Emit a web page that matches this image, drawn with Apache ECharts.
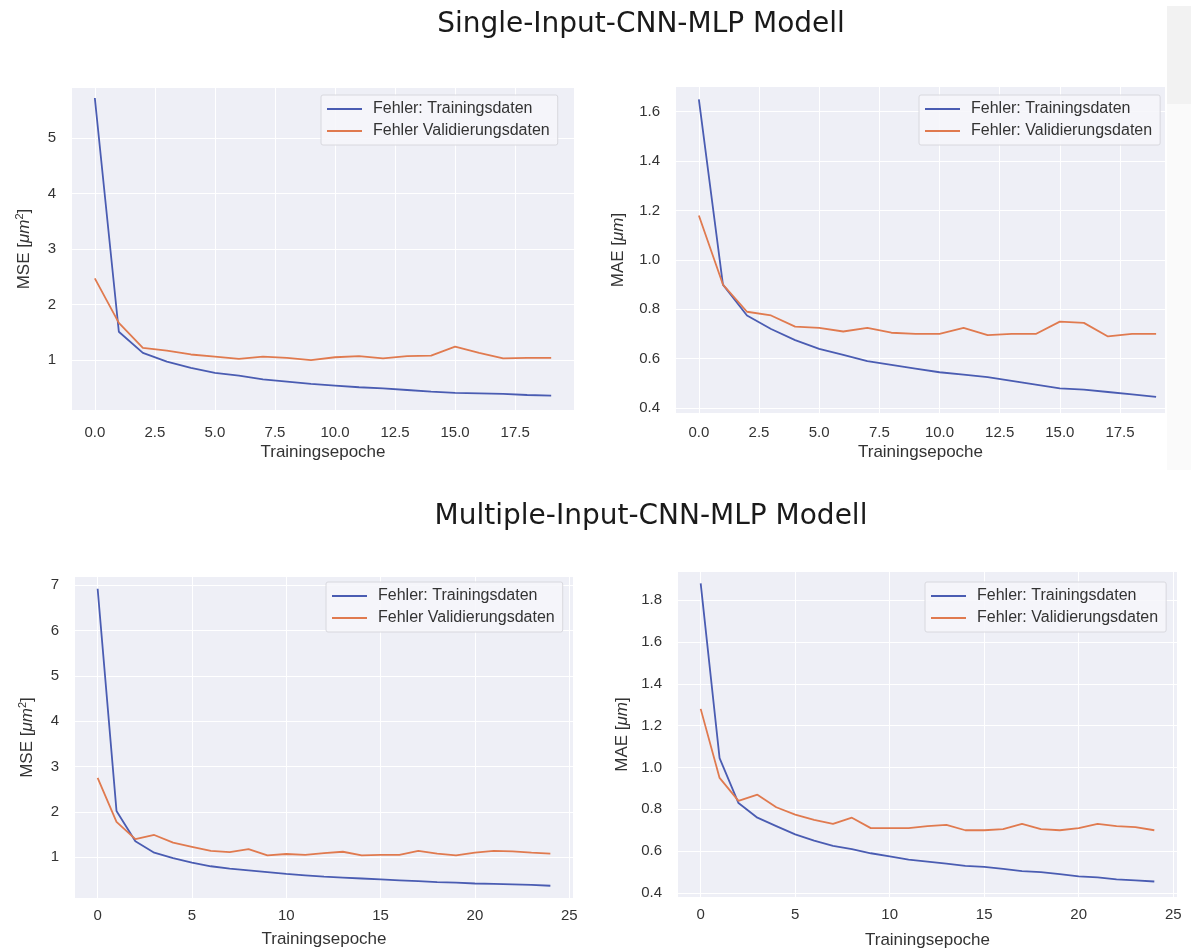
<!DOCTYPE html>
<html><head><meta charset="utf-8">
<script src="https://cdn.jsdelivr.net/npm/echarts@6/dist/echarts.min.js"></script>
<style>html,body{margin:0;padding:0;background:#fff}#c{width:1197px;height:951px}</style>
</head><body><div id="c"></div>
<script>
// ---- texts ----
const titleTop = 'Single-Input-CNN-MLP Modell';
const titleBottom = 'Multiple-Input-CNN-MLP Modell';
const legendTrain = 'Fehler: Trainingsdaten';
const legendValNoColon = 'Fehler Validierungsdaten';
const legendValColon = 'Fehler: Validierungsdaten';
const xAxisName = 'Trainingsepoche';

// ---- data: Single-Input (20 epochs) ----
const singleMseTrain = [5.72, 1.51, 1.13, 0.97, 0.86, 0.77, 0.72, 0.65, 0.61, 0.57, 0.54, 0.51, 0.49, 0.46, 0.43, 0.41, 0.40, 0.39, 0.37, 0.36];
const singleMseVal   = [2.47, 1.67, 1.22, 1.17, 1.10, 1.06, 1.02, 1.06, 1.04, 1.00, 1.05, 1.07, 1.03, 1.07, 1.08, 1.24, 1.13, 1.03, 1.04, 1.04];
const singleMaeTrain = [1.65, 0.90, 0.775, 0.72, 0.675, 0.64, 0.615, 0.59, 0.575, 0.56, 0.545, 0.535, 0.525, 0.51, 0.495, 0.48, 0.475, 0.465, 0.455, 0.445];
const singleMaeVal   = [1.18, 0.90, 0.79, 0.775, 0.73, 0.725, 0.71, 0.725, 0.705, 0.70, 0.70, 0.725, 0.695, 0.70, 0.70, 0.75, 0.745, 0.69, 0.70, 0.70];

// ---- data: Multiple-Input (25 epochs) ----
const multiMseTrain = [6.92, 2.02, 1.35, 1.10, 0.98, 0.88, 0.80, 0.75, 0.71, 0.67, 0.63, 0.60, 0.57, 0.55, 0.53, 0.51, 0.49, 0.47, 0.45, 0.44, 0.42, 0.41, 0.40, 0.39, 0.37];
const multiMseVal   = [2.75, 1.78, 1.40, 1.49, 1.32, 1.23, 1.14, 1.11, 1.18, 1.04, 1.07, 1.05, 1.09, 1.12, 1.04, 1.05, 1.05, 1.14, 1.08, 1.04, 1.10, 1.14, 1.13, 1.10, 1.08];
const multiMaeTrain = [1.88, 1.045, 0.83, 0.76, 0.72, 0.68, 0.65, 0.625, 0.61, 0.59, 0.575, 0.56, 0.55, 0.54, 0.53, 0.525, 0.515, 0.505, 0.50, 0.49, 0.48, 0.475, 0.465, 0.46, 0.455];
const multiMaeVal   = [1.28, 0.95, 0.84, 0.87, 0.81, 0.775, 0.75, 0.73, 0.76, 0.71, 0.71, 0.71, 0.72, 0.726, 0.70, 0.70, 0.705, 0.73, 0.705, 0.70, 0.71, 0.73, 0.72, 0.715, 0.70];

// ---- tick labels ----
const xTicksSingle = [0, 2.5, 5, 7.5, 10, 12.5, 15, 17.5];
const xTicksMulti = [0, 5, 10, 15, 20, 25];
const yTicksMseSingle = [1, 2, 3, 4, 5];
const yTicksMaeSingle = [0.4, 0.6, 0.8, 1.0, 1.2, 1.4, 1.6];
const yTicksMseMulti = [1, 2, 3, 4, 5, 6, 7];
const yTicksMaeMulti = [0.4, 0.6, 0.8, 1.0, 1.2, 1.4, 1.6, 1.8];

// ---- styling ----
const BLUE = '#4a5cb2';
const ORANGE = '#e07a4f';
const PLOT_BG = '#eeeff6';
const TXT = '#333333';
const FONT = '"Liberation Sans", Arial, sans-serif';

const toPairs = arr => arr.map((v, i) => [i, v]);

const panels = [
  {grid:{left:72, top:88, width:502, height:322}, x:[-0.95,19.95], y:[0.10,5.90], xt:xTicksSingle, xf:v=>v.toFixed(1), yt:yTicksMseSingle, yf:v=>String(v),
   yname:'{a|MSE [}{i|μm}{s|2}{a|]}', ygap:38, xmargin:15, xgap:34, tr:singleMseTrain, va:singleMseVal, vname:legendValNoColon, leg:{left:321, top:95}},
  {grid:{left:676, top:87, width:489, height:326}, x:[-0.95,19.37], y:[0.38,1.70], xt:xTicksSingle, xf:v=>v.toFixed(1), yt:yTicksMaeSingle, yf:v=>v.toFixed(1),
   yname:'{a|MAE [}{i|μm}{a|]}', ygap:48, xmargin:12, xgap:31, tr:singleMaeTrain, va:singleMaeVal, vname:legendValColon, leg:{left:919, top:95}},
  {grid:{left:75, top:577, width:498, height:321}, x:[-1.2,25.2], y:[0.10,7.18], xt:xTicksMulti, xf:v=>String(v), yt:yTicksMseMulti, yf:v=>String(v),
   yname:'{a|MSE [}{i|μm}{s|2}{a|]}', ygap:38, xmargin:10, xgap:33, tr:multiMseTrain, va:multiMseVal, vname:legendValNoColon, leg:{left:326, top:582}},
  {grid:{left:678, top:572, width:499, height:325}, x:[-1.2,25.2], y:[0.381,1.934], xt:xTicksMulti, xf:v=>String(v), yt:yTicksMaeMulti, yf:v=>v.toFixed(1),
   yname:'{a|MAE [}{i|μm}{a|]}', ygap:46, xmargin:10, xgap:35, tr:multiMaeTrain, va:multiMaeVal, vname:legendValColon, leg:{left:925, top:582}}
];

const grid = [], xAxis = [], yAxis = [], series = [], legend = [];
panels.forEach((p, k) => {
  grid.push(Object.assign({show:true, backgroundColor:PLOT_BG, borderWidth:0}, p.grid));
  xAxis.push({
    type:'value', gridIndex:k, min:p.x[0], max:p.x[1],
    axisLine:{show:false},
    axisTick:{show:false, customValues:p.xt},
    axisLabel:{customValues:p.xt, formatter:p.xf, color:TXT, fontFamily:FONT, fontSize:15, margin:p.xmargin},
    splitLine:{show:true, lineStyle:{color:'#ffffff', width:1}},
    name:xAxisName, nameLocation:'middle', nameGap:p.xgap,
    nameTextStyle:{color:TXT, fontFamily:FONT, fontSize:17}
  });
  yAxis.push({
    type:'value', gridIndex:k, min:p.y[0], max:p.y[1],
    axisLine:{show:false},
    axisTick:{show:false, customValues:p.yt},
    axisLabel:{customValues:p.yt, formatter:p.yf, color:TXT, fontFamily:FONT, fontSize:15, margin:16},
    splitLine:{show:true, lineStyle:{color:'#ffffff', width:1}},
    name:p.yname, nameLocation:'middle', nameGap:p.ygap, nameRotate:90,
    nameTextStyle:{
      color:TXT, fontFamily:FONT, fontSize:17,
      rich:{
        a:{color:TXT, fontFamily:FONT, fontSize:17, lineHeight:20},
        i:{color:TXT, fontFamily:FONT, fontSize:17, fontStyle:'italic', lineHeight:20},
        s:{color:TXT, fontFamily:FONT, fontSize:11, lineHeight:11, verticalAlign:'top'}
      }
    }
  });
  series.push({
    name:legendTrain, type:'line', xAxisIndex:k, yAxisIndex:k, data:toPairs(p.tr),
    showSymbol:false, symbol:'none', lineStyle:{color:BLUE, width:1.8}, itemStyle:{color:BLUE}, z:2
  });
  series.push({
    name:p.vname, type:'line', xAxisIndex:k, yAxisIndex:k, data:toPairs(p.va),
    showSymbol:false, symbol:'none', lineStyle:{color:ORANGE, width:1.8}, itemStyle:{color:ORANGE}, z:3
  });
  legend.push({
    orient:'vertical', left:p.leg.left, top:p.leg.top,
    data:[legendTrain, p.vname],
    icon:'rect', itemWidth:35, itemHeight:2, itemGap:4, selectedMode:false,
    padding:[5, 8, 5, 6],
    backgroundColor:'rgba(246,246,250,0.85)', borderColor:'#d8d8de', borderWidth:1, borderRadius:2,
    textStyle:{color:TXT, fontFamily:FONT, fontSize:16, lineHeight:18, padding:[0,0,0,6]}
  });
});

const chart = echarts.init(document.getElementById('c'), null, {renderer:'canvas'});
chart.setOption({
  backgroundColor:'#ffffff',
  animation:false,
  title:[
    {text:titleTop, left:636, top:6, textAlign:'center',
     textStyle:{fontFamily:'"DejaVu Sans", sans-serif', fontWeight:'normal', fontSize:28, color:'#1a1a1a'}},
    {text:titleBottom, left:646, top:498, textAlign:'center',
     textStyle:{fontFamily:'"DejaVu Sans", sans-serif', fontWeight:'normal', fontSize:28, color:'#1a1a1a'}}
  ],
  graphic:[
    {type:'rect', left:1167, top:6, shape:{width:24, height:98}, style:{fill:'#f2f2f2'}, z:-1},
    {type:'rect', left:1167, top:104, shape:{width:24, height:366}, style:{fill:'#fafafa'}, z:-1}
  ],
  grid, xAxis, yAxis, series, legend
});
</script>
</body></html>
